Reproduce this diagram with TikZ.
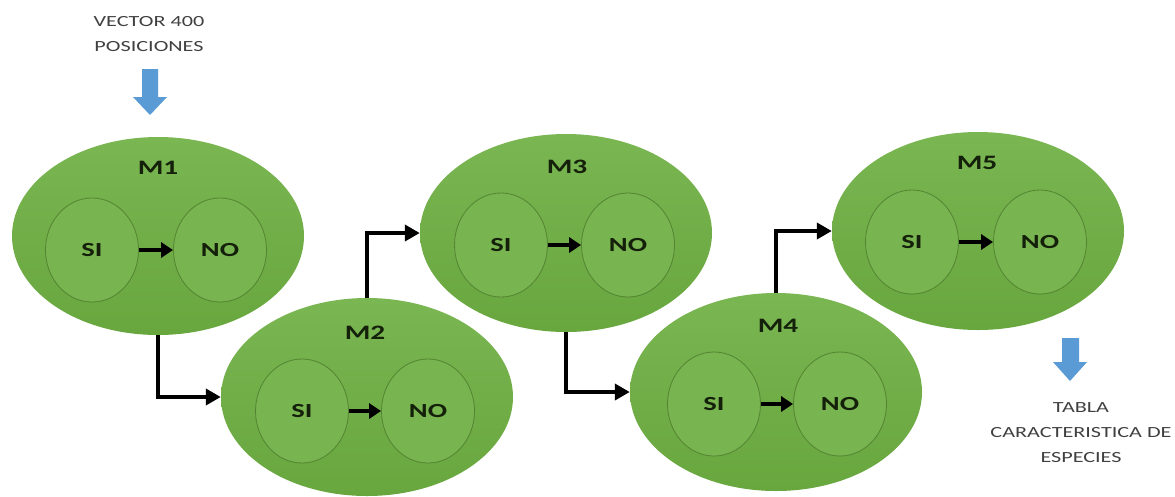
\documentclass[tikz,border=0pt]{standalone}
\usepackage{fontspec}
\usepackage{graphicx}
\setmainfont{Carlito}
\usetikzlibrary{shapes.geometric,arrows.meta}
\definecolor{gtop}{RGB}{122,182,82}
\definecolor{gbot}{RGB}{104,166,62}
\definecolor{gin}{RGB}{120,180,80}
\definecolor{gline}{RGB}{84,132,50}
\definecolor{bluearr}{RGB}{91,155,213}
\definecolor{txtgray}{RGB}{64,64,64}
\definecolor{txtdark}{RGB}{20,32,10}
\newcommand{\wide}[1]{\scalebox{1.43}[1]{#1}}
\tikzset{
  bigell/.style={ellipse, inner sep=0pt, minimum width=292pt, minimum height=198pt,
    top color=gtop, bottom color=gbot, draw=none},
  inner/.style={ellipse, inner sep=0pt, minimum width=93pt, minimum height=104pt,
    fill=gin, draw=gline, line width=0.8pt, text=txtdark,
    font=\fontsize{20}{24}\selectfont\bfseries},
  mlabel/.style={text=txtdark, font=\fontsize{20.5}{24}\selectfont\bfseries},
  smallarr/.style={line width=4.6pt, -{Triangle[length=12pt,width=15pt]}, black},
  conn/.style={line width=4.4pt, -{Triangle[length=15pt,width=16pt]}, black},
  outtext/.style={align=center, text=txtgray, font=\fontsize{15.5}{25}\selectfont},
  blockarr/.style={fill=bluearr, draw=none}
}
\begin{document}
\begin{tikzpicture}[x=1pt,y=-1pt]
\useasboundingbox (0,0) rectangle (1175,496);
% ellipses
\node[bigell] (m1) at (158,236) {};
\node[bigell] (m2) at (367,397) {};
\node[bigell] (m3) at (566,233) {};
\node[bigell] (m4) at (776,392) {};
\node[bigell] (m5) at (978,231) {};
% labels
\node[mlabel] (l1) at (158,168) {\wide{M1}};
\node[mlabel] (l2) at (365,333) {\wide{M2}};
\node[mlabel] (l3) at (567,167) {\wide{M3}};
\node[mlabel] (l4) at (778,326) {\wide{M4}};
\node[mlabel] (l5) at (977,163) {\wide{M5}};
% inner circles
\node[inner] (si1) at (92,250) {\wide{SI}};
\node[inner] (no1) at (220,250) {\wide{NO}};
\node[inner] (si2) at (302,411) {\wide{SI}};
\node[inner] (no2) at (428,411) {\wide{NO}};
\node[inner] (si3) at (501,245) {\wide{SI}};
\node[inner] (no3) at (628,245) {\wide{NO}};
\node[inner] (si4) at (714,404) {\wide{SI}};
\node[inner] (no4) at (840,404) {\wide{NO}};
\node[inner] (si5) at (912,242) {\wide{SI}};
\node[inner] (no5) at (1040,242) {\wide{NO}};
% inner arrows
\foreach \i in {1,...,5} {
  \draw[smallarr] (si\i.east) -- (no\i.west);
}
% connectors
\draw[conn] (m1.south) |- (m2.west);
\draw[conn] (m2.north) |- (m3.west);
\draw[conn] (m3.south) |- (m4.west);
\draw[conn] (m4.north) |- (m5.west);
% outside texts
\node[outtext] (vec) at (149,34) {\wide{VECTOR 400}\\\wide{POSICIONES}};
\node[outtext] (tab) at (1081,433) {\wide{TABLA}\\\wide{CARACTERISTICA DE}\\\wide{ESPECIES}};
% blue block arrows
\fill[blockarr] (142,69) -- (158,69) -- (158,97) -- (167,97) -- (150,115) -- (133,97) -- (142,97) -- cycle;
\fill[blockarr] (1062,338) -- (1079,338) -- (1079,362) -- (1087,362) -- (1070,381) -- (1053,362) -- (1062,362) -- cycle;
\end{tikzpicture}
\end{document}
